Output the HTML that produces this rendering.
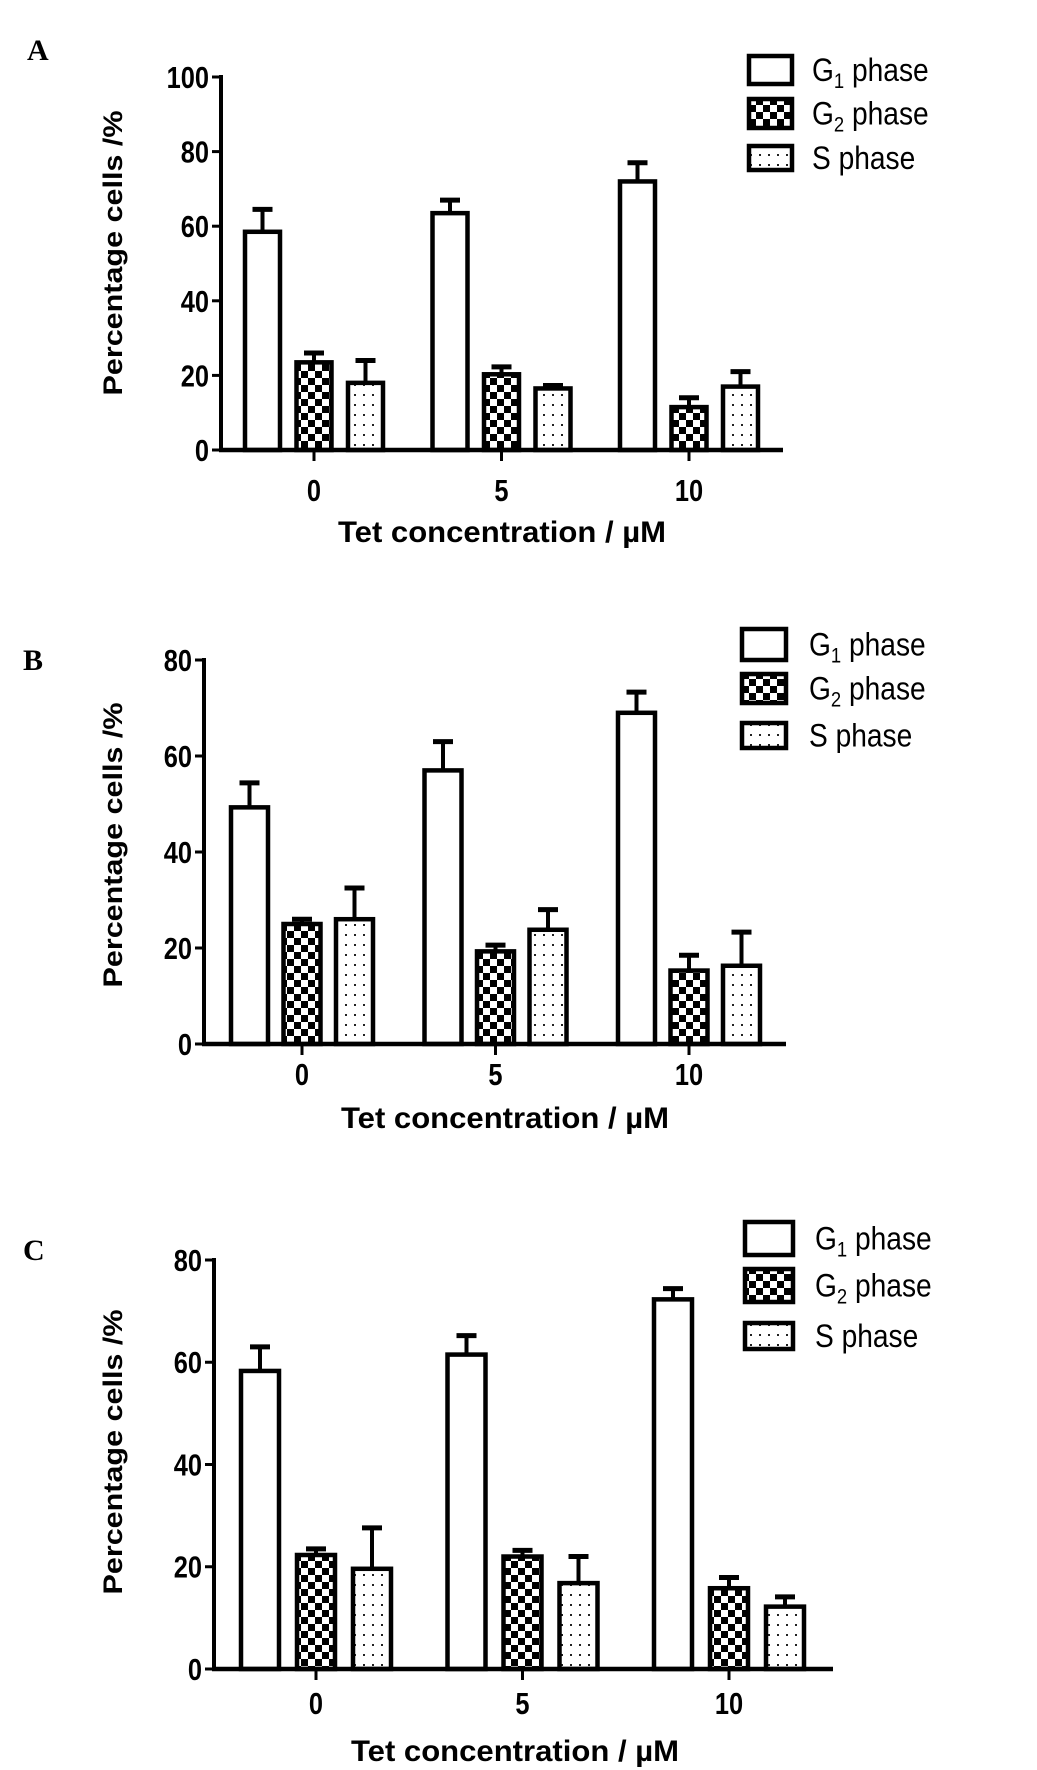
<!DOCTYPE html>
<html><head><meta charset="utf-8"><style>
html,body{margin:0;padding:0;background:#fff;}
svg{display:block;font-family:"Liberation Sans",Arial,sans-serif;}
</style></head><body>
<svg id="fig" width="1037" height="1770" viewBox="0 0 1037 1770" xmlns="http://www.w3.org/2000/svg">
<defs>
<pattern id="checker" width="14" height="14" patternUnits="userSpaceOnUse">
<rect width="14" height="14" fill="#fff"/><rect width="7" height="7" fill="#000"/><rect x="7" y="7" width="7" height="7" fill="#000"/>
</pattern>
<pattern id="dots" width="9" height="10" patternUnits="userSpaceOnUse">
<rect width="9" height="10" fill="#fff"/><rect x="3" y="4" width="2" height="2" fill="#222"/>
</pattern>
</defs>
</svg>
<script>
const categories = ["0", "5", "10"];
const seriesNames = ["G1", "G2", "S"];
const ticksA = [0, 20, 40, 60, 80, 100];
const ticksB = [0, 20, 40, 60, 80];
const ticksC = [0, 20, 40, 60, 80];
const g1A = [58.5, 63.5, 72];   const g1ErrA = [6, 3.5, 5];
const g2A = [23.5, 20.3, 11.5]; const g2ErrA = [2.5, 2, 2.5];
const sA  = [18, 16.5, 17];     const sErrA  = [6, 0.8, 4];
const g1B = [49.3, 57, 69];     const g1ErrB = [5.1, 6, 4.3];
const g2B = [25, 19.3, 15.3];   const g2ErrB = [1, 1.3, 3.2];
const sB  = [26, 23.8, 16.3];   const sErrB  = [6.5, 4.2, 7];
const g1C = [58.3, 61.5, 72.3]; const g1ErrC = [4.7, 3.7, 2.1];
const g2C = [22.3, 22, 15.8];   const g2ErrC = [1.2, 1.2, 2.1];
const sC  = [19.6, 16.8, 12.2]; const sErrC  = [8, 5.2, 1.9];

const NS = "http://www.w3.org/2000/svg";
const svg = document.getElementById("fig");
function mk(tag, attrs, parent) {
  const e = document.createElementNS(NS, tag);
  for (const k in attrs) e.setAttribute(k, attrs[k]);
  (parent || svg).appendChild(e);
  return e;
}
const fills = ["#fff", "url(#checker)", "url(#dots)"];

function panel(p) {
  const g = mk("g", {});
  
  
  const y = v => p.y0 - (v / p.max) * (p.y0 - p.yTop);
  const x = i => p.cx0 + i * p.step;
  const L = mk("text", {x: p.lx, y: p.ly, "font-family": "Liberation Serif, serif", "font-weight": "bold", "font-size": 30}, g);
  L.textContent = p.id;
  
  
  for (let s = 0; s < 3; s++) {
    for (let i = 0; i < categories.length; i++) {
      const v = p.vals[s][i], e = p.errs[s][i];
      const bx = x(i) + (s - 1) * p.off;
      const top = y(v), etop = y(v + e);
      const el = mk("line", {x1: bx, x2: bx, y1: top, y2: etop, stroke: "#000", "stroke-width": 4}, g);
      
      
      const cap = mk("line", {x1: bx - 10, x2: bx + 10, y1: etop, y2: etop, stroke: "#000", "stroke-width": 5}, g);
      
      
      const r = mk("rect", {x: bx - p.bw / 2, y: top, width: p.bw, height: p.y0 - top, fill: fills[s], stroke: "#000", "stroke-width": 4.5}, g);
      
      
    }
  }
  const ya = mk("line", {x1: p.ax, x2: p.ax, y1: p.yTop - 2, y2: p.y0, stroke: "#000", "stroke-width": 4}, g);
  
  
  const xa = mk("line", {x1: p.ax - 2, x2: p.xEnd, y1: p.y0, y2: p.y0, stroke: "#000", "stroke-width": 4.5}, g);
  
  
  p.ticks.forEach(t => {
    const ty = y(t);
    const tl = mk("line", {x1: p.ax - 9, x2: p.ax, y1: ty, y2: ty, stroke: "#000", "stroke-width": 3}, g);
    
    
    const tx = mk("text", {x: p.ax - 12, y: ty + 11, "text-anchor": "end", "font-weight": "bold", "font-size": 31, transform: `translate(${(p.ax-12)*0.18},0) scale(0.82,1)`}, g);
    tx.textContent = String(t);
    
    
  });
  categories.forEach((c, i) => {
    const tl = mk("line", {x1: x(i), x2: x(i), y1: p.y0, y2: p.y0 + 11, stroke: "#000", "stroke-width": 3}, g);
    
    
    const tx = mk("text", {x: x(i), y: p.catY, "text-anchor": "middle", "font-weight": "bold", "font-size": 31, transform: `translate(${x(i)*0.18},0) scale(0.82,1)`}, g);
    tx.textContent = c;
    
    
  });
  const yt = mk("text", {x: 0, y: 0, "text-anchor": "middle", "font-weight": "bold", "font-size": 27, textLength: 285, lengthAdjust: "spacingAndGlyphs", transform: `translate(${p.ytx},${p.yty}) rotate(-90)`}, g);
  yt.textContent = "Percentage cells /%";
  
  
  const xt = mk("text", {x: p.xtx, y: p.xty, "text-anchor": "middle", "font-weight": "bold", "font-size": 30, textLength: 328, lengthAdjust: "spacingAndGlyphs"}, g);
  xt.textContent = "Tet concentration / µM";
  
  
  const labels = [["G", "1", " phase"], ["G", "2", " phase"], ["S", "", " phase"]];
  for (let s = 0; s < 3; s++) {
    const b = p.leg[s];
    const r = mk("rect", {x: p.lbx, y: b[0], width: p.lbw, height: b[1] - b[0], fill: fills[s], stroke: "#000", "stroke-width": 4.5}, g);
    
    
    const t = mk("text", {x: p.ltx, y: (b[0] + b[1]) / 2 + 11, "font-size": 32, transform: `translate(${p.ltx*0.12},0) scale(0.88,1)`}, g);
    
    
    const a = mk("tspan", {}, t); a.textContent = labels[s][0];
    if (labels[s][1]) { const sub = mk("tspan", {dy: 7, "font-size": 21}, t); sub.textContent = labels[s][1]; }
    const rest = mk("tspan", {dy: labels[s][1] ? -7 : 0}, t); rest.textContent = labels[s][2];
  }
}

panel({id: "A", lx: 27, ly: 60, ax: 221, yTop: 77, y0: 450, max: 100, xEnd: 783, cx0: 314, step: 187.5, off: 51.5, bw: 35,
  ticks: ticksA, vals: [g1A, g2A, sA], errs: [g1ErrA, g2ErrA, sErrA], catY: 501, ytx: 122, yty: 253, xtx: 502, xty: 542,
  lbx: 749, lbw: 43, leg: [[56, 84], [99, 128], [146, 170]], ltx: 812});
panel({id: "B", lx: 23, ly: 670, ax: 204, yTop: 660, y0: 1044, max: 80, xEnd: 786, cx0: 302, step: 193.5, off: 52.5, bw: 37,
  ticks: ticksB, vals: [g1B, g2B, sB], errs: [g1ErrB, g2ErrB, sErrB], catY: 1085, ytx: 122, yty: 845, xtx: 505, xty: 1128,
  lbx: 742, lbw: 44, leg: [[629, 660], [674, 703], [723, 748]], ltx: 809});
panel({id: "C", lx: 23, ly: 1260, ax: 214, yTop: 1260, y0: 1669, max: 80, xEnd: 833, cx0: 316, step: 206.5, off: 56, bw: 38,
  ticks: ticksC, vals: [g1C, g2C, sC], errs: [g1ErrC, g2ErrC, sErrC], catY: 1714, ytx: 122, yty: 1452, xtx: 515, xty: 1761,
  lbx: 745, lbw: 48, leg: [[1222, 1255], [1269, 1302], [1323, 1349]], ltx: 815});
</script>
</body></html>
